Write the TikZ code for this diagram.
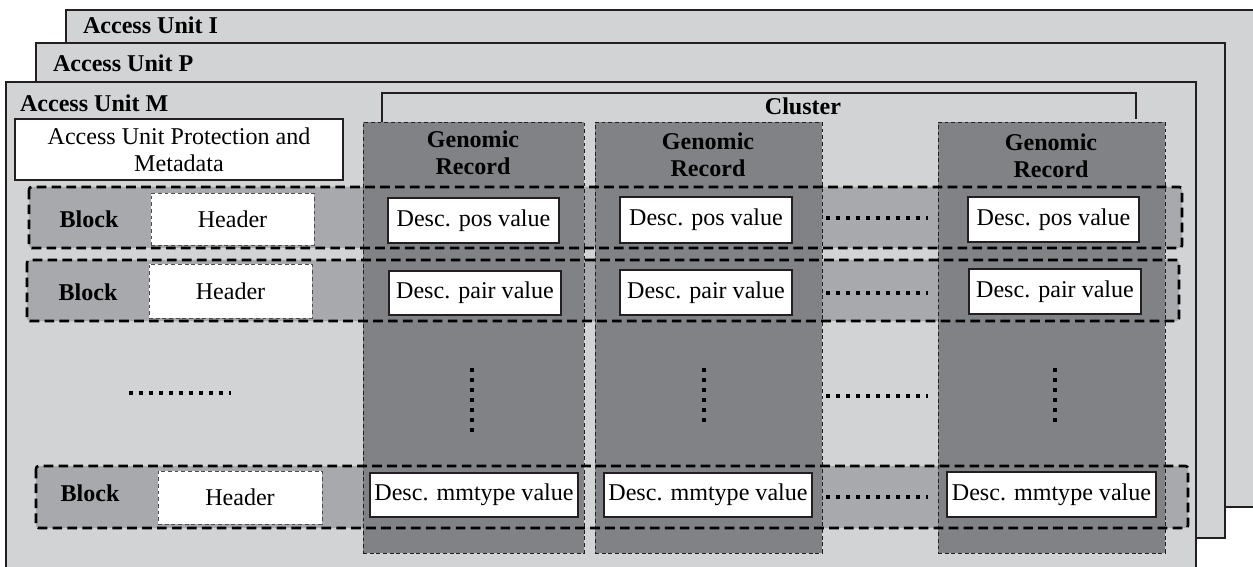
\documentclass[tikz,border=0pt]{standalone}
\usepackage{fontspec}
\setmainfont{Liberation Serif}
\definecolor{aufill}{HTML}{D1D3D4}
\definecolor{colfill}{HTML}{808285}
\definecolor{blkfill}{HTML}{A7A9AC}
\definecolor{ink}{HTML}{231F20}
\newcommand\bx[7]{\node[#6, minimum width={(#4-#2)*0.02cm}, minimum height={(#5-#3)*0.02cm}] (#1) at ({(#2+#4)/2},{(#3+#5)/2}) {#7};}
\tikzset{
  base/.style={inner sep=0pt, outer sep=0pt, font=\fontsize{13.7}{15.5}\selectfont, align=center},
  aubox/.style={base, fill=aufill, draw=ink, line width=0.85pt},
  protbox/.style={base, fill=white, draw=ink, line width=0.7pt},
  colbox/.style={base, fill=colfill, draw=ink, line width=0.55pt, dash pattern=on 2.2pt off 1.6pt},
  blkbox/.style={base, fill=blkfill, rounded corners=1.5pt},
  blkborder/.style={draw=black, line width=1.5pt, dash pattern=on 5.5pt off 3pt, rounded corners=1.5pt},
  hdrbox/.style={base, fill=white, draw=ink!80, line width=0.55pt, dash pattern=on 2.2pt off 1.6pt},
  descbox/.style={base, fill=white, draw=ink, line width=0.85pt},
  title/.style={base, font=\fontsize{13.7}{15.5}\selectfont\bfseries, anchor=west},
  btext/.style={base, font=\fontsize{13.7}{15.5}\selectfont\bfseries},
  dots/.style={line width=2.4pt, dash pattern=on 2.4pt off 3.3pt, draw=black},
  bracket/.style={draw=ink, line width=0.85pt},
}
\begin{document}
\begin{tikzpicture}[x=0.02cm, y=-0.02cm]
\useasboundingbox (0,0) rectangle (1253,567);
\clip (0,0) rectangle (1253,567);
% access units
\bx{aui}{66}{10}{1280}{507}{aubox}{}
\bx{aup}{36}{43}{1225}{538}{aubox}{}
\bx{aum}{6}{82}{1196}{600}{aubox}{}
\node[title] (taui) at (83,25) {Access Unit I};
\node[title] (taup) at (53,63) {Access Unit P};
\node[title] (taum) at (20,103) {Access Unit M};
% protection
\bx{prot}{15}{119}{343}{180}{protbox}{Access Unit Protection and\\Metadata}
% cluster bracket
\coordinate (cl1) at (382,122);
\coordinate (cl2) at (382,93);
\coordinate (cl3) at (1136,93);
\coordinate (cl4) at (1136,119);
\draw[bracket] (cl1) -- (cl2) -- (cl3) -- (cl4);
\node[btext] (cluster) at (803,106) {Cluster};
% block fills
\bx{blk1}{29}{187}{1182}{248}{blkbox}{}
\bx{blk2}{27}{260}{1179}{321}{blkbox}{}
\bx{blk3}{36}{466}{1188}{528}{blkbox}{}
\fill[aufill] (584,466) rectangle (595,528);
% columns
\bx{col1}{363}{122}{584}{553}{colbox}{}
\bx{col2}{595}{122}{822}{553}{colbox}{}
\bx{col3}{938}{122}{1165}{553}{colbox}{}
\node[btext] (gr1) at (473,153) {Genomic\\Record};
\node[btext] (gr2) at (708,155) {Genomic\\Record};
\node[btext] (gr3) at (1051,156) {Genomic\\Record};
% block borders
\draw[blkborder] (blk1.north west) rectangle (blk1.south east);
\draw[blkborder] (blk2.north west) rectangle (blk2.south east);
\draw[blkborder] (blk3.north west) rectangle (blk3.south east);
% block labels and headers
\node[btext] (bl1) at (89,219) {Block};
\node[btext] (bl2) at (88,292) {Block};
\node[btext] (bl3) at (90,493) {Block};
\bx{h1}{151}{193}{314}{245}{hdrbox}{Header}
\bx{h2}{149}{264}{312}{318}{hdrbox}{Header}
\bx{h3}{158}{471}{322}{524}{hdrbox}{Header}
% desc boxes
\bx{d11}{388}{198}{559}{243}{descbox}{Desc. pos value}
\bx{d12}{620}{197}{792}{243}{descbox}{Desc. pos value}
\bx{d13}{968}{197}{1139}{242}{descbox}{Desc. pos value}
\bx{d21}{389}{271}{561}{315}{descbox}{Desc. pair value}
\bx{d22}{620}{270}{792}{315}{descbox}{Desc. pair value}
\bx{d23}{969}{269}{1141}{314}{descbox}{Desc. pair value}
\bx{d31}{370}{473}{578}{517}{descbox}{Desc. mmtype value}
\bx{d32}{604}{473}{812}{517}{descbox}{Desc. mmtype value}
\bx{d33}{947}{472}{1156}{517}{descbox}{Desc. mmtype value}
% dotted ellipses
\coordinate (r1a) at (826,218); \coordinate (r1b) at (928,218);
\coordinate (r2a) at (826,293); \coordinate (r2b) at (928,293);
\coordinate (rma) at (826,396); \coordinate (rmb) at (928,396);
\coordinate (r3a) at (826,497); \coordinate (r3b) at (928,497);
\coordinate (la) at (129,393); \coordinate (lb) at (231,393);
\draw[dots] (r1a) -- (r1b);
\draw[dots] (r2a) -- (r2b);
\draw[dots] (rma) -- (rmb);
\draw[dots] (r3a) -- (r3b);
\draw[dots] (la) -- (lb);
\coordinate (v1a) at (472,368); \coordinate (v1b) at (472,436);
\coordinate (v2a) at (704,368); \coordinate (v2b) at (704,428);
\coordinate (v3a) at (1055,368); \coordinate (v3b) at (1055,428);
\draw[dots] (v1a) -- (v1b);
\draw[dots] (v2a) -- (v2b);
\draw[dots] (v3a) -- (v3b);
\end{tikzpicture}
\end{document}
